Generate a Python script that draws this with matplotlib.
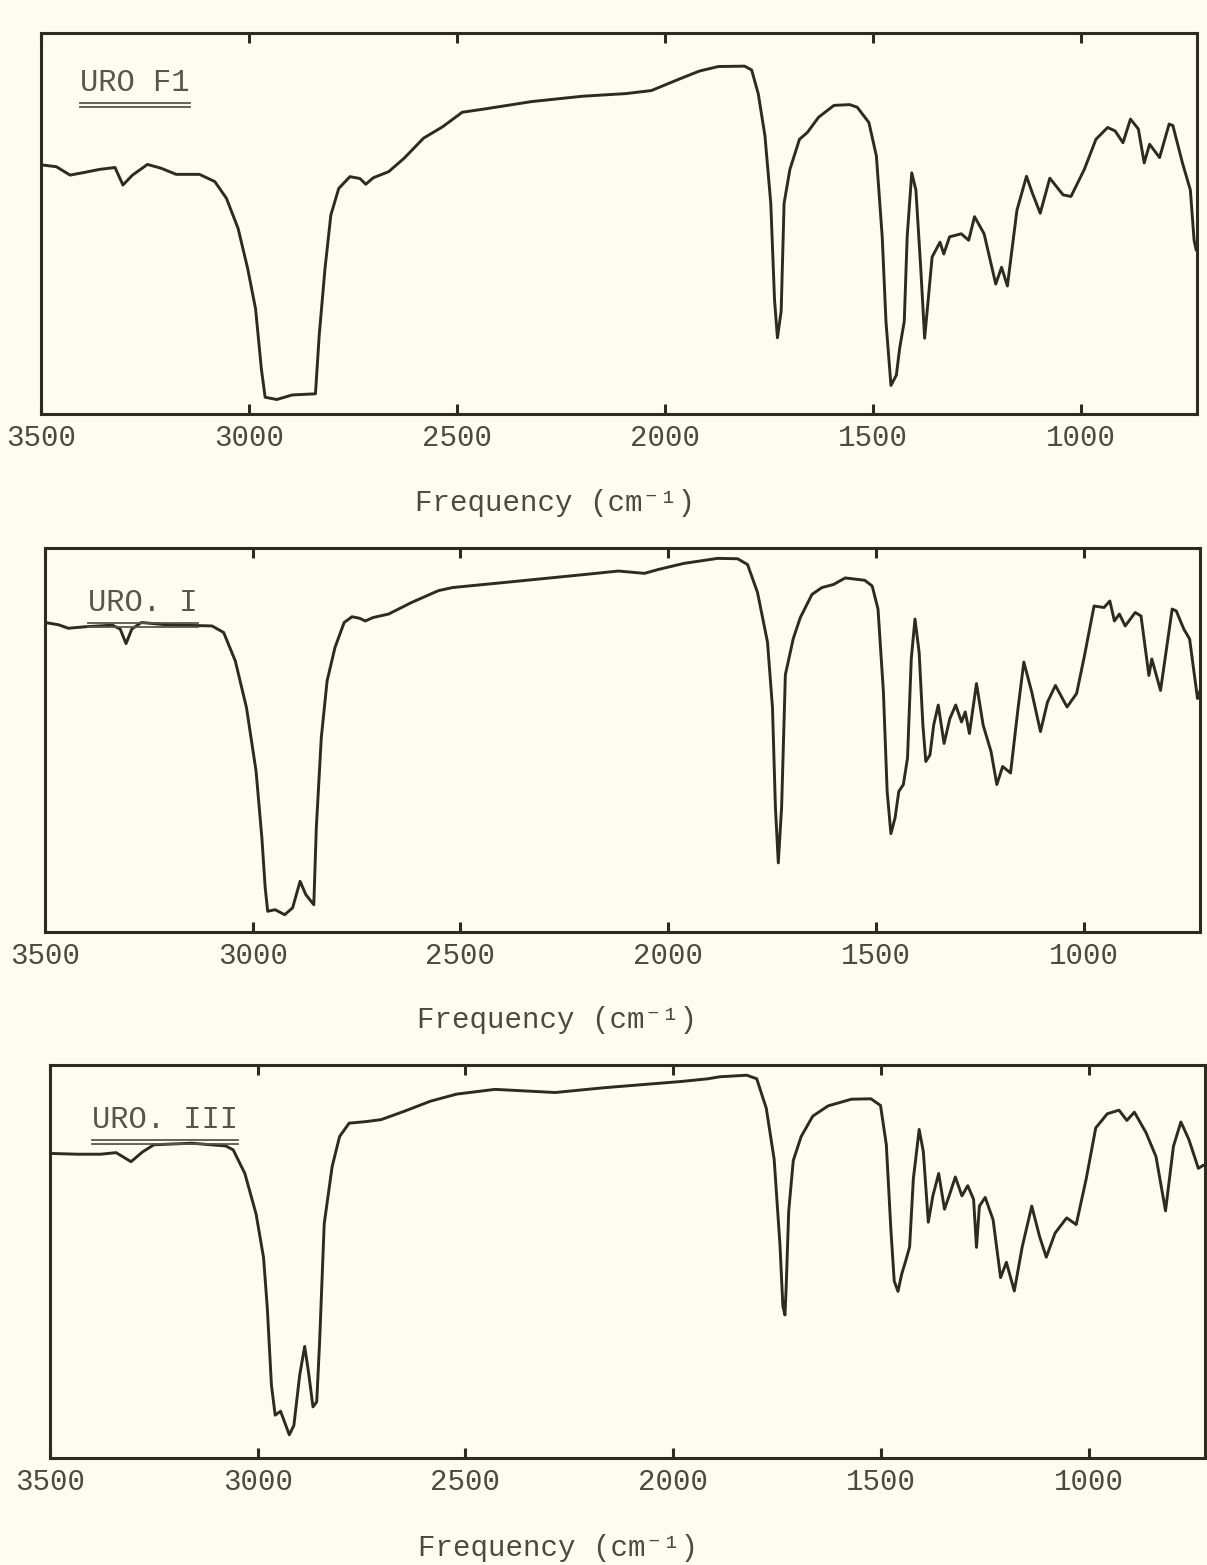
import numpy as np
import matplotlib
matplotlib.use("Agg")
import matplotlib.pyplot as plt
from matplotlib.lines import Line2D

# IR spectra: wavenumber (cm-1) and transmittance (% of frame height)
wn_f1 = [3500, 3463, 3430, 3396, 3359, 3322, 3303, 3280, 3244, 3211, 3175, 3119, 3082, 3054,
         3026, 3003, 2984, 2970, 2961, 2933, 2896, 2840, 2831, 2817, 2803, 2784, 2757, 2733,
         2719, 2701, 2664, 2627, 2580, 2534, 2487, 2431, 2320, 2198, 2093, 2032, 1963, 1917,
         1871, 1808, 1791, 1775, 1759, 1745, 1736, 1729, 1720, 1713, 1699, 1676, 1657, 1630,
         1593, 1555, 1537, 1509, 1491, 1477, 1468, 1456, 1443, 1435, 1424, 1417, 1406, 1396,
         1384, 1375, 1366, 1357, 1338, 1329, 1315, 1287, 1269, 1255, 1232, 1204, 1190, 1176,
         1153, 1130, 1116, 1097, 1074, 1042, 1023, 991, 963, 935, 917, 898, 880, 861, 847,
         834, 810, 787, 778, 755, 736, 727, 722]
t_f1 = [65.4, 64.9, 62.7, 63.4, 64.2, 64.7, 60.1, 62.7, 65.5, 64.5, 62.9, 62.9, 61.0, 56.6,
        48.7, 38.2, 27.6, 11.8, 4.4, 3.8, 5.0, 5.3, 20.6, 38.2, 52.2, 59.2, 62.3, 61.8,
        60.3, 62.0, 63.6, 67.1, 72.4, 75.4, 79.2, 80.1, 82.0, 83.4, 84.1, 84.9, 88.0, 90.0,
        91.2, 91.3, 90.3, 84.0, 73.0, 55.3, 30.0, 20.0, 27.0, 55.3, 64.2, 72.1, 73.9, 77.9,
        81.0, 81.2, 80.5, 76.5, 67.7, 46.5, 24.3, 7.5, 10.2, 17.3, 24.3, 46.5, 63.3, 58.8,
        37.6, 19.9, 30.5, 41.2, 45.1, 42.0, 46.5, 47.3, 45.6, 51.8, 47.3, 34.1, 38.5, 33.6,
        53.5, 62.4, 58.0, 52.7, 61.9, 57.5, 57.1, 64.2, 72.1, 75.2, 74.3, 71.2, 77.4, 74.8, 65.9,
        70.8, 67.3, 76.1, 75.7, 65.9, 58.8, 45.6, 43.0]

wn_i = [3500, 3467, 3444, 3402, 3338, 3319, 3305, 3291, 3268, 3208, 3098, 3070, 3042, 3015,
        2992, 2978, 2970, 2964, 2946, 2923, 2904, 2886, 2872, 2853, 2847, 2835, 2821, 2802,
        2780, 2761, 2743, 2729, 2710, 2673, 2618, 2553, 2519, 2359, 2201, 2120, 2057, 2024,
        1962, 1881, 1833, 1809, 1785, 1761, 1749, 1742, 1735, 1727, 1718, 1699, 1682, 1654,
        1630, 1602, 1574, 1527, 1509, 1495, 1482, 1473, 1464, 1454, 1445, 1434, 1424, 1415,
        1406, 1396, 1387, 1380, 1370, 1361, 1350, 1336, 1322, 1308, 1294, 1285, 1275, 1258,
        1242, 1223, 1209, 1195, 1176, 1158, 1144, 1125, 1104, 1087, 1068, 1040, 1017, 998,
        975, 951, 937, 926, 914, 900, 876, 862, 843, 836, 815, 787, 777, 759, 745, 726, 717, 703]
t_i = [80.6, 80.0, 79.1, 79.5, 79.9, 78.9, 75.1, 78.9, 80.6, 80.0, 79.7, 78.0, 70.6, 58.4,
       41.9, 24.5, 11.5, 5.4, 5.8, 4.5, 6.3, 13.2, 9.7, 7.1, 27.1, 50.6, 65.4, 74.1,
       80.6, 82.1, 81.7, 81.0, 81.9, 82.8, 85.8, 88.9, 89.7, 91.4, 93.1, 94.0, 93.4, 94.4,
       96.0, 97.3, 97.2, 95.7, 88.4, 75.5, 58.4, 32.6, 18.0, 32.6, 67.0, 76.4, 81.9, 87.9,
       89.7, 90.5, 92.2, 91.6, 90.1, 84.1, 62.5, 36.6, 25.6, 29.7, 36.6, 38.4, 45.3, 71.1,
       81.5, 72.8, 53.9, 44.4, 46.1, 53.9, 59.1, 49.1, 55.6, 59.1, 54.7, 57.3, 51.7, 64.7,
       53.9, 47.0, 38.4, 43.1, 41.4, 58.2, 70.3, 62.5, 52.2, 59.9, 64.2, 58.6, 62.1, 72.0,
       84.9, 84.5, 86.2, 81.0, 82.8, 79.7, 83.2, 82.3, 66.8, 71.1, 62.9, 84.1, 83.6, 78.9,
       76.3, 60.8, 63.8, 63.8]

wn_iii = [3500, 3433, 3378, 3341, 3305, 3277, 3250, 3159, 3077, 3059, 3031, 3004, 2986, 2977,
          2967, 2958, 2945, 2924, 2913, 2899, 2887, 2878, 2867, 2858, 2851, 2840, 2821, 2803,
          2780, 2739, 2703, 2648, 2584, 2521, 2429, 2284, 2168, 2075, 1981, 1916, 1888, 1823,
          1799, 1776, 1757, 1743, 1736, 1731, 1728, 1722, 1711, 1692, 1664, 1627, 1571, 1524,
          1501, 1487, 1476, 1468, 1459, 1450, 1440, 1431, 1422, 1408, 1398, 1386, 1375, 1361,
          1347, 1333, 1321, 1305, 1291, 1277, 1270, 1263, 1249, 1230, 1212, 1198, 1179, 1160,
          1137, 1118, 1102, 1081, 1053, 1030, 1006, 983, 955, 927, 908, 890, 862, 838, 815,
          796, 778, 759, 736, 724, 713]
t_iii = [77.5, 77.3, 77.3, 77.7, 75.4, 77.9, 79.7, 80.1, 79.4, 78.4, 72.4, 62.1, 51.0, 38.2,
         18.5, 10.9, 11.9, 5.9, 8.3, 21.1, 28.4, 22.0, 13.0, 14.3, 29.7, 59.6, 74.1, 81.8,
         85.2, 85.6, 86.1, 88.2, 90.8, 92.6, 93.8, 93.0, 94.2, 95.0, 95.8, 96.5, 97.0, 97.4,
         96.5, 89.0, 76.0, 54.2, 38.6, 36.4, 43.7, 62.8, 75.7, 81.8, 87.0, 89.6, 91.3, 91.4,
         89.7, 79.7, 58.0, 45.0, 42.4, 46.8, 50.3, 53.7, 71.0, 83.6, 78.0, 60.0, 66.7, 72.4,
         63.3, 67.6, 71.5, 66.7, 69.3, 65.8, 53.6, 64.1, 66.3, 60.6, 45.9, 49.8, 42.5, 53.7,
         64.1, 56.3, 51.1, 57.2, 61.1, 59.4, 71.0, 84.0, 87.6, 88.5, 85.9, 88.0, 82.8, 76.7, 62.9,
         79.3, 85.5, 81.1, 73.7, 74.5, 74.0]

titles = ["URO F1", "URO. I", "URO. III"]
ticks = [3500, 3000, 2500, 2000, 1500, 1000]
tick_labels = ["3500", "3000", "2500", "2000", "1500", "1000"]

W, H = 1207, 1565
paper = "#fcfcf1"
ink = "#2b2b1e"
type_ink = "#4a4a40"
mono = ["Liberation Mono", "DejaVu Sans Mono"]

fig = plt.figure(figsize=(W / 100, H / 100), dpi=100, facecolor=paper)

# panel frames in pixels: left, right, top, bottom
frames = [(41, 1197, 33, 414), (45, 1200, 548, 932), (50, 1205, 1065, 1458)]
title_pos = [(80, 83), (88, 603), (92, 1120)]
xlabel_pos = [(555, 503), (557, 1020), (558, 1548)]
spectra = [(wn_f1, t_f1), (wn_i, t_i), (wn_iii, t_iii)]

title_texts = []
for k, (l, r, top, bot) in enumerate(frames):
    ax = fig.add_axes([l / W, 1 - bot / H, (r - l) / W, (bot - top) / H])
    ax.set_facecolor(paper)
    wn, t = spectra[k]
    ax.plot(wn, t, color=ink, lw=2.1, solid_joinstyle="round", solid_capstyle="round")
    ax.set_xlim(3500, 720)
    ax.set_ylim(0, 100)
    ax.set_yticks([])
    ax.set_xticks(ticks)
    ax.set_xticklabels(tick_labels, fontfamily=mono, fontsize=21, color=type_ink)
    ax.tick_params(axis="x", direction="in", top=True, length=7, width=2.2,
                   color=ink, pad=7)
    for s in ax.spines.values():
        s.set_color(ink)
        s.set_linewidth(2.2)

    tx, ty = title_pos[k]
    title_texts.append(fig.text(tx / W, 1 - ty / H, titles[k], fontfamily=mono,
                                fontsize=22, color="#56564c", va="center", ha="left"))
    lx, ly = xlabel_pos[k]
    fig.text(lx / W, 1 - ly / H, "Frequency (cm⁻¹)", fontfamily=mono, fontsize=21,
             color=type_ink, va="center", ha="center")

# double underline under each sample name
fig.canvas.draw()
renderer = fig.canvas.get_renderer()
for txt in title_texts:
    bb = txt.get_window_extent(renderer)
    for off in (5, 9):
        y = (bb.y0 - off) / H
        fig.add_artist(Line2D([bb.x0 / W, bb.x1 / W], [y, y], color="#56564c", lw=1.3))

fig.savefig("out.png", dpi=100, facecolor=paper)
